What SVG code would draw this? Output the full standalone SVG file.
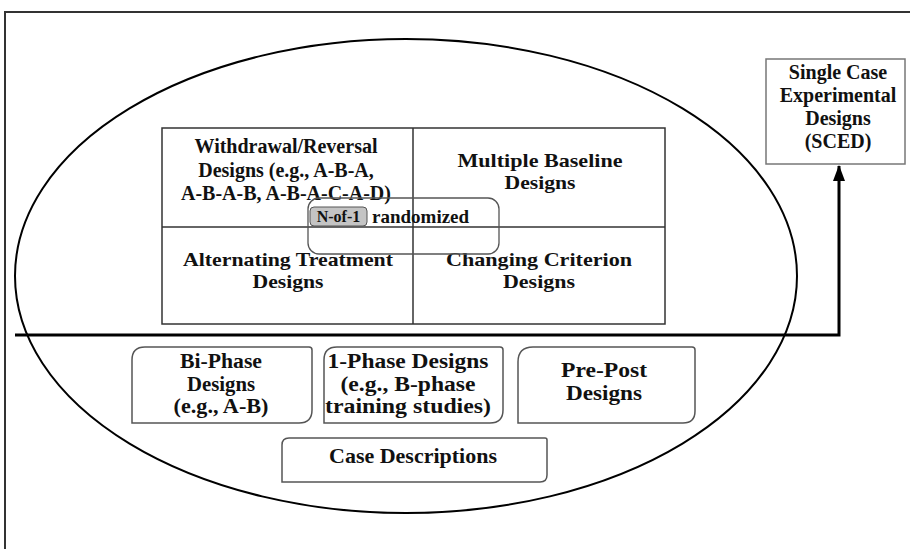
<svg xmlns="http://www.w3.org/2000/svg" width="910" height="549" viewBox="0 0 910 549">
<defs>
<style>
text{font-family:"Liberation Serif","Times New Roman",serif;font-weight:bold;fill:#111;text-anchor:middle;font-size:20px}
.md{font-size:19px}
.box{fill:none;stroke:#555;stroke-width:1.5}
.grid{fill:none;stroke:#333;stroke-width:1.5}
.conn{fill:none;stroke:#000;stroke-width:3}
</style>
<marker id="arr" viewBox="0 0 16 12" refX="15" refY="6" markerWidth="16" markerHeight="12" markerUnits="userSpaceOnUse" orient="auto">
<path d="M0,0 L16,6 L0,12 Z" fill="#000"/>
</marker>
</defs>
<rect width="910" height="549" fill="#fff"/>
<path d="M5,549 V12 H910" fill="none" stroke="#333" stroke-width="2"/>
<g id="scope">
<ellipse cx="406" cy="276" rx="391" ry="237" fill="none" stroke="#000" stroke-width="2"/>
</g>
<g id="grid">
<rect class="grid" x="162" y="128" width="503" height="196"/>
<line class="grid" x1="413" y1="128" x2="413" y2="324"/>
<line class="grid" x1="162" y1="227" x2="665" y2="227"/>
</g>
<g id="withdrawal">
<text x="286" y="153">Withdrawal/Reversal</text>
<text x="286" y="177">Designs (e.g., A-B-A,</text>
<text x="286" y="200">A-B-A-B, A-B-A-C-A-D)</text>
</g>
<g id="multiple-baseline">
<text class="md" x="540" y="167" textLength="165" lengthAdjust="spacingAndGlyphs">Multiple Baseline</text>
<text class="md" x="540" y="189" textLength="71" lengthAdjust="spacingAndGlyphs">Designs</text>
</g>
<g id="alternating">
<text class="md" x="288" y="266" textLength="210" lengthAdjust="spacingAndGlyphs">Alternating Treatment</text>
<text class="md" x="288" y="288" textLength="71" lengthAdjust="spacingAndGlyphs">Designs</text>
</g>
<g id="changing">
<text class="md" x="539" y="266" textLength="186" lengthAdjust="spacingAndGlyphs">Changing Criterion</text>
<text class="md" x="539" y="288" textLength="72" lengthAdjust="spacingAndGlyphs">Designs</text>
</g>
<g id="nof1">
<rect x="308" y="198" width="191" height="56" rx="11" fill="none" stroke="#555" stroke-width="1.3"/>
<rect x="310" y="207" width="57" height="19" rx="4" fill="#c4c4c4" stroke="#555" stroke-width="1"/>
<text x="338.5" y="222" style="font-size:16px">N-of-1</text>
<text x="372" y="223" style="text-anchor:start;font-size:19px">randomized</text>
</g>
<g id="biphase">
<path class="box" d="M145,347 H309 Q312,347 312,350 V410 Q312,423 299,423 H132 V360 Q132,347 145,347 Z"/>
<text x="221" y="368" textLength="82" lengthAdjust="spacingAndGlyphs">Bi-Phase</text>
<text x="221" y="390.5" textLength="68" lengthAdjust="spacingAndGlyphs">Designs</text>
<text x="221" y="413" textLength="95" lengthAdjust="spacingAndGlyphs">(e.g., A-B)</text>
</g>
<g id="onephase">
<path class="box" d="M337,347 H500 Q503,347 503,350 V410 Q503,423 490,423 H324 V360 Q324,347 337,347 Z"/>
<text x="408" y="368" textLength="161" lengthAdjust="spacingAndGlyphs">1-Phase Designs</text>
<text x="408" y="390.5" textLength="135" lengthAdjust="spacingAndGlyphs">(e.g., B-phase</text>
<text x="408" y="413" textLength="166" lengthAdjust="spacingAndGlyphs">training studies)</text>
</g>
<g id="prepost">
<path class="box" d="M533,347 H692 Q695,347 695,350 V411 Q695,423 683,423 H518 V362 Q518,347 533,347 Z"/>
<text x="604" y="377" textLength="86" lengthAdjust="spacingAndGlyphs">Pre-Post</text>
<text x="604" y="400" textLength="76" lengthAdjust="spacingAndGlyphs">Designs</text>
</g>
<g id="case">
<path class="box" d="M289,438 H545 Q547,438 547,440 V475 Q547,482 540,482 H282 V445 Q282,438 289,438 Z"/>
<text x="413" y="463" style="font-size:21px" textLength="168" lengthAdjust="spacingAndGlyphs">Case Descriptions</text>
</g>
<g id="sced">
<rect x="766" y="59" width="139" height="105" fill="#fff" stroke="#777" stroke-width="1.5"/>
<text x="838" y="79">Single Case</text>
<text x="838" y="102">Experimental</text>
<text x="838" y="125">Designs</text>
<text x="838" y="148">(SCED)</text>
</g>
<g id="connectors">
<path class="conn" d="M15,335 H839 V166" marker-end="url(#arr)"/>
</g>
</svg>
